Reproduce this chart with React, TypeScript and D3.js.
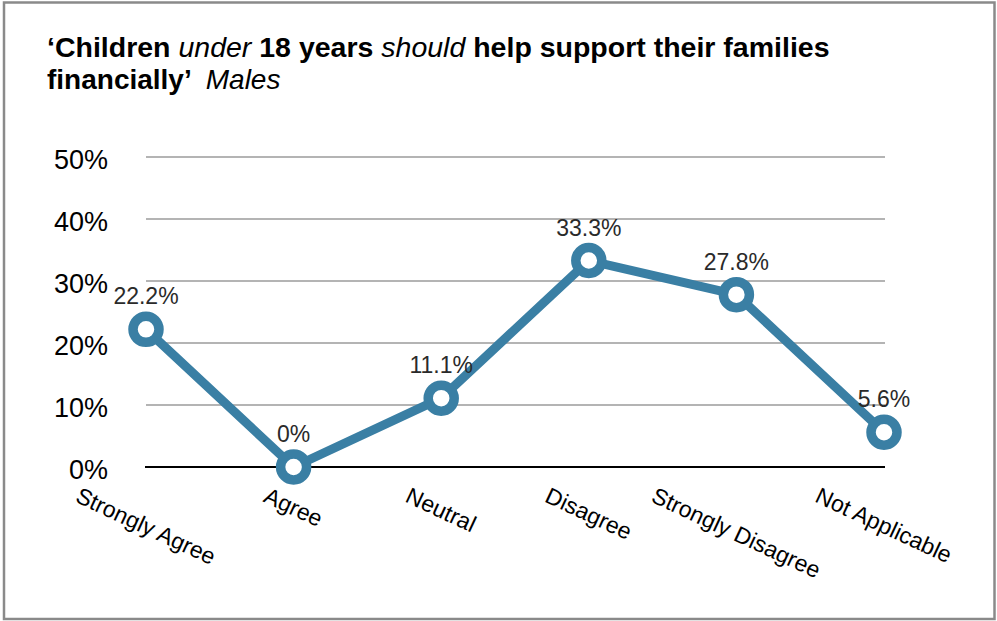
import React, { useEffect, useRef } from "react";
import * as d3 from "d3";

const categories = ["Strongly Agree", "Agree", "Neutral", "Disagree", "Strongly Disagree", "Not Applicable"];
const values = [22.2, 0, 11.1, 33.3, 27.8, 5.6];
const valueLabels = ["22.2%", "0%", "11.1%", "33.3%", "27.8%", "5.6%"];
const yTicks = [0, 10, 20, 30, 40, 50];

const W = 997;
const H = 621;
const FONT = "'Liberation Sans', Arial, Helvetica, sans-serif";
const COLOR = "#3a7fa4";

export default function App() {
  const ref = useRef<SVGSVGElement | null>(null);

  useEffect(() => {
    const svg = d3.select(ref.current);
    svg.selectAll("*").remove();

    const x = d3.scalePoint<string>().domain(categories).range([146, 884]);
    const y = d3.scaleLinear().domain([0, 50]).range([467, 157]);

    // frame
    svg.append("rect").attr("x", 4).attr("y", 2.5).attr("width", 990.5).attr("height", 616.5)
      .attr("fill", "white").attr("stroke", "#8a8a8a").attr("stroke-width", 2.5);

    // title
    const t1 = svg.append("text").attr("x", 47).attr("y", 57).attr("font-family", FONT)
      .attr("font-size", 28.5).attr("fill", "#000").attr("xml:space", "preserve");
    const parts1: [string, boolean][] = [
      ["\u2018Children ", false], ["under", true], [" 18 years ", false], ["should", true], [" help support their families", false],
    ];
    parts1.forEach(([s, it]) => {
      t1.append("tspan").text(s).attr("font-weight", it ? "normal" : "bold").attr("font-style", it ? "italic" : "normal");
    });
    const t2 = svg.append("text").attr("x", 47).attr("y", 89).attr("font-family", FONT)
      .attr("font-size", 28).attr("fill", "#000").attr("xml:space", "preserve");
    t2.append("tspan").text("financially\u2019  ").attr("font-weight", "bold");
    t2.append("tspan").text("Males").attr("font-style", "italic");

    // gridlines
    svg.append("g").selectAll("line").data(yTicks.filter((d) => d > 0)).join("line")
      .attr("x1", 146).attr("x2", 885).attr("y1", (d) => y(d)).attr("y2", (d) => y(d))
      .attr("stroke", "#b4b4b4").attr("stroke-width", 2);
    svg.append("line").attr("x1", 145).attr("x2", 885).attr("y1", y(0)).attr("y2", y(0))
      .attr("stroke", "#000").attr("stroke-width", 2);

    // y labels
    svg.append("g").selectAll("text").data(yTicks).join("text")
      .attr("x", 108).attr("y", (d) => y(d) + 12).attr("text-anchor", "end")
      .attr("font-family", FONT).attr("font-size", 27).attr("fill", "#000")
      .text((d) => `${d}%`);

    // x labels rotated, bbox top aligned, centered on tick
    const theta = (25 * Math.PI) / 180;
    const fs = 23;
    const gx = svg.append("g");
    categories.forEach((c) => {
      const t = gx.append("text").attr("font-family", FONT).attr("font-size", fs).attr("fill", "#000")
        .attr("text-anchor", "middle").attr("dy", `${0.36}em`).text(c);
      const w = (t.node() as SVGTextElement).getComputedTextLength();
      const h = fs * 0.75;
      const bh = w * Math.sin(theta) + h * Math.cos(theta);
      const cy = 486 + bh / 2;
      t.attr("transform", `translate(${x(c)},${cy}) rotate(25)`);
    });

    // line
    const pts = categories.map((c, i) => [x(c) as number, y(values[i])] as [number, number]);
    svg.append("path").attr("d", d3.line()(pts)).attr("fill", "none").attr("stroke", COLOR)
      .attr("stroke-width", 9).attr("stroke-linejoin", "round");

    svg.append("g").selectAll("circle").data(pts).join("circle")
      .attr("cx", (d) => d[0]).attr("cy", (d) => d[1]).attr("r", 13)
      .attr("fill", "white").attr("stroke", COLOR).attr("stroke-width", 9.5);

    // value labels
    svg.append("g").selectAll("text").data(pts).join("text")
      .attr("x", (d) => d[0]).attr("y", (d) => d[1] - 25).attr("text-anchor", "middle")
      .attr("font-family", FONT).attr("font-size", 23).attr("fill", "#2a2a2a")
      .text((_, i) => valueLabels[i]);
  }, []);

  return (
    <div style={{ position: "absolute", left: 0, top: 0 }}>
      <svg ref={ref} width={W} height={H} style={{ display: "block" }} />
    </div>
  );
}
